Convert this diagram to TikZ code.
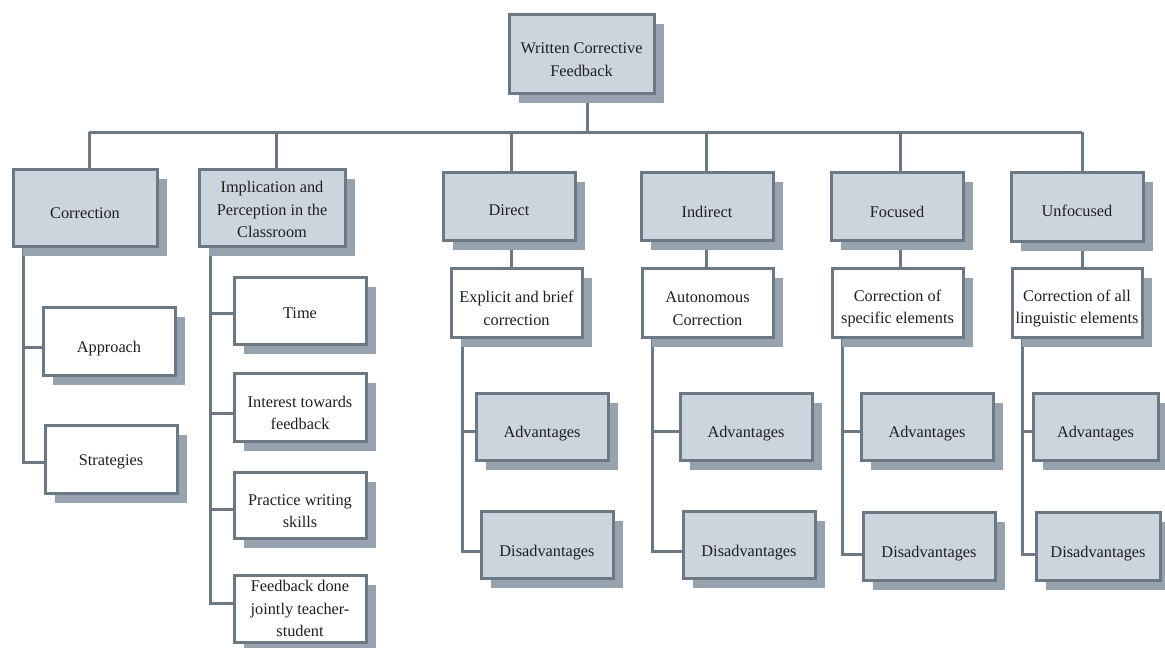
\documentclass[tikz,border=0pt]{standalone}
\usepackage{fontspec}
\setmainfont{Liberation Serif}
\usetikzlibrary{shadows,backgrounds}
\definecolor{boxfill}{RGB}{204,212,222}
\definecolor{edgec}{RGB}{108,120,131}
\definecolor{shadec}{RGB}{150,162,174}
\tikzset{
  basebox/.style={draw=edgec, line width=3pt, inner sep=0pt,
    drop shadow={shadow xshift=10pt, shadow yshift=-10pt, fill=shadec, opacity=1}},
  graybox/.style={basebox, fill=boxfill},
  whitebox/.style={basebox, fill=white},
  boxtext/.style={align=center, inner sep=0pt, font=\fontsize{16.3}{22.5}\selectfont, text=black!88},
  link/.style={draw=edgec, line width=3pt},
}
% [text drop]{name}{style}{x1}{x2}{y1}{y2}{text}
\newcommand{\mybox}[8][6]{%
  \node[#3, minimum width={#5-#4}, minimum height={#7-#6}] (#2) at ({(#4+#5)/2},{(#6+#7)/2}) {};
  \node[boxtext] (#2-t) at ([yshift=-#1pt]#2.center) {#8};}
\begin{document}
\begin{tikzpicture}[x=1pt,y=-1pt]
\useasboundingbox (0,0) rectangle (1165,648);
% nodes
\mybox{root}{graybox}{509}{654}{14}{93}{Written Corrective\\Feedback}
\mybox{corr}{graybox}{13}{157}{169}{246}{Correction}
\mybox[2]{impl}{graybox}{199}{345}{169}{246}{Implication and\\Perception in the\\Classroom}
\mybox[4]{dir}{graybox}{443}{575}{172}{240}{Direct}
\mybox{ind}{graybox}{641}{773}{172}{240}{Indirect}
\mybox{foc}{graybox}{831}{963}{172}{240}{Focused}
\mybox[4]{unf}{graybox}{1011}{1143}{172}{241}{Unfocused}
\mybox[8]{appr}{whitebox}{43}{175}{307}{375}{Approach}
\mybox[3]{strat}{whitebox}{45}{177}{425}{493}{Strategies}
\mybox[3]{time}{whitebox}{234}{366}{277}{344}{Time}
\mybox{inter}{whitebox}{234}{366}{373}{441}{Interest towards\\feedback}
\mybox{pract}{whitebox}{234}{366}{472}{538}{Practice writing\\skills}
\mybox[0]{fdbk}{whitebox}{234}{366}{575}{642}{Feedback done\\jointly teacher-\\student}
\mybox{dwh}{whitebox}{451}{582}{268}{337}{Explicit and brief\\correction}
\mybox{iwh}{whitebox}{642}{773}{268}{337}{Autonomous\\Correction}
\mybox{fwh}{whitebox}{832}{963}{268}{337}{Correction of\\specific elements}
\mybox{uwh}{whitebox}{1012}{1142}{268}{337}{Correction of all\\linguistic elements}
\mybox[7]{dadv}{graybox}{476}{608}{393}{460}{Advantages}
\mybox[8]{ddis}{graybox}{481}{613}{511}{578}{Disadvantages}
\mybox[7]{iadv}{graybox}{680}{812}{393}{460}{Advantages}
\mybox[8]{idis}{graybox}{683}{815}{511}{578}{Disadvantages}
\mybox[7]{fadv}{graybox}{861}{993}{393}{460}{Advantages}
\mybox[8]{fdis}{graybox}{863}{995}{512}{580}{Disadvantages}
\mybox[7]{uadv}{graybox}{1033}{1158}{393}{460}{Advantages}
\mybox[8]{udis}{graybox}{1036}{1160}{512}{580}{Disadvantages}
% connectors
\coordinate (busL) at (89,132);
\coordinate (busR) at (1082,132);
\coordinate (cv) at (23,246);
\coordinate (iv) at (210,246);
\coordinate (dv) at (462,337);
\coordinate (inv) at (652,337);
\coordinate (fv) at (842,337);
\coordinate (uv) at (1022,337);
\begin{pgfonlayer}{background}
\draw[link] (busL) -- (busR);
\draw[link] ([xshift=5.5pt]root.south) -- ([xshift=5.5pt]root.south |- busL);
\draw[link] (busL) -- (busL |- corr.north);
\draw[link] ([xshift=4pt]impl.north) -- ([xshift=4pt]impl.north |- busL);
\draw[link] ([xshift=2pt]dir.north) -- ([xshift=2pt]dir.north |- busL);
\draw[link] ([xshift=-1pt]ind.north) -- ([xshift=-1pt]ind.north |- busL);
\draw[link] ([xshift=3pt]foc.north) -- ([xshift=3pt]foc.north |- busL);
\draw[link] (busR) -- (busR |- unf.north);
\draw[link] ([xshift=2pt]dir.south) -- ([xshift=2pt]dir.south |- dwh.north);
\draw[link] ([xshift=-1pt]ind.south) -- ([xshift=-1pt]ind.south |- iwh.north);
\draw[link] ([xshift=3pt]foc.south) -- ([xshift=3pt]foc.south |- fwh.north);
\draw[link] ([xshift=5pt]unf.south) -- ([xshift=5pt]unf.south |- uwh.north);
\draw[link] (cv) |- ([yshift=-6pt]appr.west);
\draw[link] (cv) |- ([yshift=-3pt]strat.west);
\draw[link] (iv) |- ([yshift=-2.5pt]time.west);
\draw[link] (iv) |- ([yshift=-6pt]inter.west);
\draw[link] (iv) |- ([yshift=-4pt]pract.west);
\draw[link] (iv) |- ([yshift=5pt]fdbk.west);
\draw[link] (dv) |- ([yshift=-4.5pt]dadv.west);
\draw[link] (dv) |- ([yshift=-7pt]ddis.west);
\draw[link] (inv) |- ([yshift=-4.5pt]iadv.west);
\draw[link] (inv) |- ([yshift=-7pt]idis.west);
\draw[link] (fv) |- ([yshift=-5pt]fadv.west);
\draw[link] (fv) |- ([yshift=-8pt]fdis.west);
\draw[link] (uv) |- ([yshift=-5pt]uadv.west);
\draw[link] (uv) |- ([yshift=-8pt]udis.west);
\end{pgfonlayer}
\end{tikzpicture}
\end{document}
